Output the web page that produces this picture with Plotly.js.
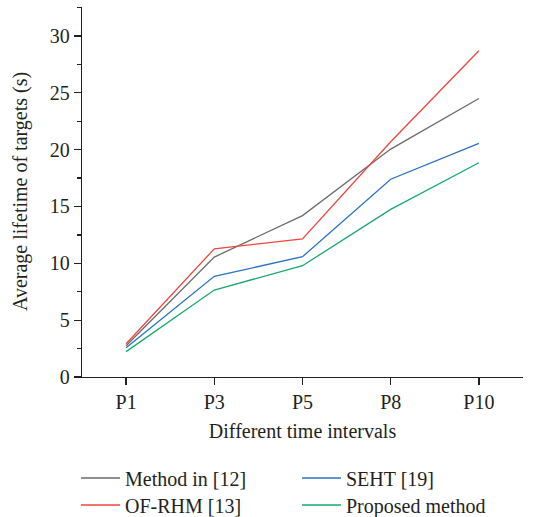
<!DOCTYPE html>
<html><head><meta charset="utf-8">
<script src="https://cdn.plot.ly/plotly-3.0.1.min.js"></script>
<style>body{margin:0;background:#fff}#chart{width:541px;height:517px}</style>
</head><body><div id="chart"></div>
<script>
const categories = ["P1", "P3", "P5", "P8", "P10"];
const method12 = [2.75, 10.55, 14.2, 20.05, 24.5];
const ofrhm13 = [2.93, 11.28, 12.14, 20.7, 28.7];
const seht19 = [2.58, 8.86, 10.58, 17.4, 20.55];
const proposed = [2.23, 7.65, 9.79, 14.75, 18.85];
const yTitle = "Average lifetime of targets (s)";
const xTitle = "Different time intervals";

const font = {family: "Liberation Serif, DejaVu Serif, serif", size: 20, color: "#231f20"};
function tr(name, y, color, legend) {
  return {x: categories, y: y, name: name, type: "scatter", mode: "lines",
    line: {color: color, width: 1.3}, legend: legend};
}
const data = [
  tr("Method in [12]", method12, "#6b6b6b", "legend"),
  tr("OF-RHM [13]", ofrhm13, "#f0463c", "legend3"),
  tr("SEHT [19]", seht19, "#2a72c0", "legend2"),
  tr("Proposed method", proposed, "#17a86c", "legend4")
];
function leg(x, y) {
  return {orientation: "v", x: x, xref: "container", xanchor: "left",
    y: y, yanchor: "middle", yref: "container",
    font: font, itemwidth: 39, bgcolor: "rgba(0,0,0,0)"};
}
const layout = {
  width: 541, height: 517,
  margin: {l: 82, r: 18, t: 7, b: 140, autoexpand: false},
  paper_bgcolor: "#fff", plot_bgcolor: "#fff",
  font: font,
  showlegend: true,
  xaxis: {
    type: "category", categoryarray: categories, range: [-0.5, 4.5],
    showline: true, linecolor: "#231f20", linewidth: 1.3,
    ticks: "outside", ticklen: 7, tickcolor: "#231f20", tickwidth: 1.3,
    minor: {ticks: "outside", ticklen: 4, tickcolor: "#231f20", tickwidth: 1.3, dtick: 1, tick0: -0.5},
    showgrid: false, zeroline: false, tickfont: font,
    title: {text: xTitle, font: font, standoff: 11}
  },
  yaxis: {
    range: [0, 32.55], showline: true, linecolor: "#231f20", linewidth: 1.3,
    ticks: "outside", ticklen: 7, tickcolor: "#231f20", tickwidth: 1.3, dtick: 5, tick0: 0,
    minor: {ticks: "outside", ticklen: 4, tickcolor: "#231f20", tickwidth: 1.3, dtick: 2.5},
    showgrid: false, zeroline: false, tickfont: font
  },
  annotations: [{
    text: yTitle, font: font, textangle: -90, showarrow: false,
    xref: "paper", yref: "paper", x: -62 / 441, y: 0.5, xanchor: "center", yanchor: "middle"
  }],
  legend: leg(76 / 541, 39 / 517),
  legend2: leg(297 / 541, 39 / 517),
  legend3: leg(76 / 541, 12 / 517),
  legend4: leg(297 / 541, 12 / 517)
};
Plotly.newPlot("chart", data, layout, {displayModeBar: false, staticPlot: true});
</script></body></html>
